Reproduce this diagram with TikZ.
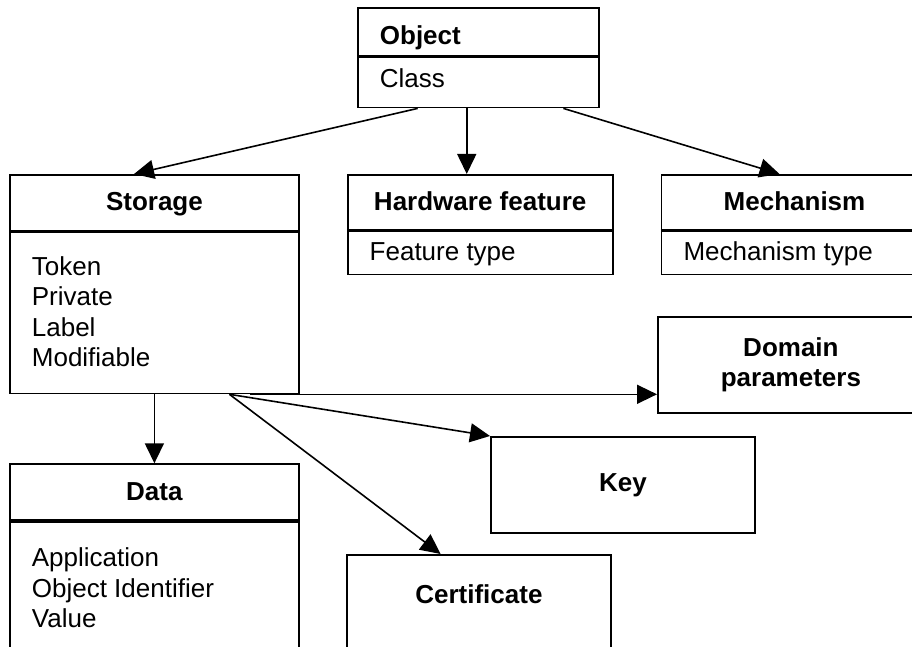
\documentclass[tikz,border=0pt]{standalone}
\usepackage{fontspec}
\setmainfont{Liberation Sans}
\usetikzlibrary{shapes,positioning,calc,arrows.meta}

\newcommand{\rowstrut}[2]{\rule[-#2]{0pt}{#1}}

\begin{document}
\begin{tikzpicture}[x=1pt, y=-1pt, font=\fontsize{26}{30.3}\selectfont,
classbox/.style={rectangle split, rectangle split parts=2, draw, line width=1.8pt, rectangle split part align={center,left}, align=left, inner xsep=22pt, inner ysep=0pt, minimum width=#1, anchor=north west},
plainbox/.style={draw, line width=1.8pt, minimum width=#1, minimum height=96pt, inner sep=0pt, align=center, anchor=north west, font=\fontsize{26}{30.3}\selectfont\bfseries},
divider/.style={line width=3.4pt},
link/.style={line width=1.6pt, -{Triangle[length=20pt,width=19pt]}}]

\useasboundingbox (0,0) rectangle (912,647);
\clip (0,0) rectangle (912,647);

% CLASSES

\node [classbox=241pt, rectangle split part align=left] (object) at (357,7)
{\rowstrut{47pt}{11pt}\textbf{Object}%
\nodepart{two}\rowstrut{49pt}{19pt}Class%
};

\node [classbox=289pt] (storage) at (9,174)
{\rowstrut{55pt}{20pt}\textbf{Storage}%
\nodepart{two}\rule{0pt}{43pt}Token\\Private\\Label\\Modifiable\rowstrut{26pt}{26pt}%
};

\node [classbox=265pt, right=47pt of storage.north east, anchor=north west] (hardware)
{\rowstrut{54pt}{19pt}\textbf{Hardware feature}%
\nodepart{two}\rowstrut{42pt}{13pt}Feature type%
};

\node [classbox=266pt, right=47pt of hardware.north east, anchor=north west] (mechanism)
{\rowstrut{54pt}{19pt}\textbf{Mechanism}%
\nodepart{two}\rowstrut{42pt}{13pt}Mechanism type%
};

\node [classbox=289pt, below=69pt of storage.south west, anchor=north west] (data)
{\rowstrut{55pt}{20pt}\textbf{Data}%
\nodepart{two}\rule{0pt}{45pt}Application\\Object Identifier\\Value\rowstrut{45pt}{45pt}%
};

\foreach \cls in {object,storage,hardware,mechanism,data}
  \draw [divider] (\cls.text split west) -- (\cls.text split east);

\node [plainbox=266pt] (domain) at (657,316) {Domain\\parameters};

\node [plainbox=264pt] (key) at (490,436) {Key};

\node [plainbox=264pt, text depth=17pt] (certificate) at (346,554) {Certificate};

% LINKS

\coordinate (object-left) at ($(object.south west)!0.25!(object.south east)$);
\coordinate (object-mid) at ($(object.south west)!0.452!(object.south east)$);
\coordinate (object-right) at ($(object.south west)!0.85!(object.south east)$);
\coordinate (storage-fan) at ($(storage.south west)!0.758!(storage.south east)$);
\coordinate (storage-dom) at ($(storage.south west)!0.83!(storage.south east)$);

\draw [link] (object-left) -- ($(storage.north west)!0.43!(storage.north east)$);
\draw [link] (object-mid) -- (object-mid |- hardware.north);
\draw [link] (object-right) -- ($(mechanism.north west)!0.444!(mechanism.north east)$);

\draw [link] (storage.south) -- (data.north);
\draw [link] (storage-dom) -- (storage-dom -| domain.west);
\draw [link] (storage-fan) -- (key.north west);
\draw [link] (storage-fan) -- ($(certificate.north west)!0.356!(certificate.north east)$);

\end{tikzpicture}
\end{document}
